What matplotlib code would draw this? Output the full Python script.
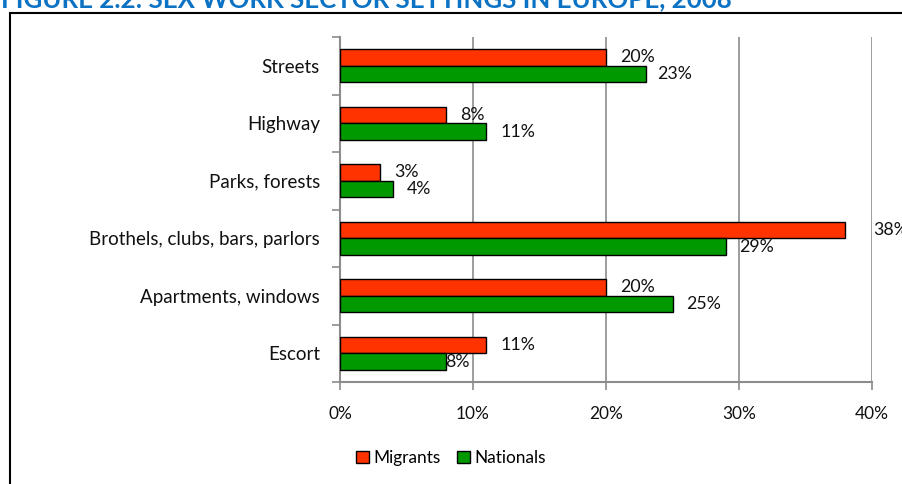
import matplotlib
matplotlib.use("Agg")
import matplotlib.pyplot as plt
from matplotlib.patches import Rectangle, Patch
import numpy as np

# Data
categories = ["Streets", "Highway", "Parks, forests",
              "Brothels, clubs, bars, parlors", "Apartments, windows", "Escort"]
migrants = [20, 8, 3, 38, 20, 11]
nationals = [23, 11, 4, 29, 25, 8]
series_names = ["Migrants", "Nationals"]
x_ticks = [0, 10, 20, 30, 40]
title_text = "FIGURE 2.2: SEX WORK SECTOR SETTINGS IN EUROPE, 2008"

# Label nudges in points (x) for the value labels
mig_dx = [10, 10, 10, 20, 10, 10]
nat_dx = [8, 10, 10, 10, 10, -1]

RED = "#FF3300"
GREEN = "#009900"
GRID = "#8C8C8C"
TEXT = "#111111"
FONT = "Lato"

W, H = 903, 484
fig = plt.figure(figsize=(W / 100, H / 100), dpi=100)
plt.rcParams["font.family"] = [FONT, "DejaVu Sans"]

# Plot area
left, right, top, bottom = 340, 872, 37, 382
ax = fig.add_axes([left / W, 1 - bottom / H, (right - left) / W, (bottom - top) / H])

n = len(categories)
y = np.arange(n)
bh = 0.29
ax.barh(y - bh / 2, migrants, height=bh, color=RED, edgecolor="black", linewidth=1.0, zorder=3)
ax.barh(y + bh / 2, nationals, height=bh, color=GREEN, edgecolor="black", linewidth=1.0, zorder=3)

ax.set_ylim(n - 0.5, -0.5)
ax.set_xlim(0, 40)
ax.set_xticks(x_ticks)
ax.set_xticklabels([f"{t}%" for t in x_ticks], fontsize=12.4, color=TEXT)
ax.set_yticks(y)
ax.set_yticklabels(categories, fontsize=13.5, color=TEXT)
ax.set_yticks(np.arange(n + 1) - 0.5, minor=True)
ax.tick_params(axis="y", which="major", length=0, pad=14.5)
ax.tick_params(axis="y", which="minor", length=6, color=GRID, width=1.2)
ax.tick_params(axis="x", which="major", length=6, color=GRID, width=1.2, pad=11)

ax.grid(axis="x", color=GRID, linewidth=1.2, zorder=0)
for s in ["top", "right"]:
    ax.spines[s].set_visible(False)
for s in ["left", "bottom"]:
    ax.spines[s].set_color(GRID)
    ax.spines[s].set_linewidth(1.5)

# Value labels
for i in range(n):
    ax.annotate(f"{migrants[i]}%", (migrants[i], y[i] - bh / 2), xytext=(mig_dx[i], 0),
                textcoords="offset points", va="center", ha="left", fontsize=12.8,
                color=TEXT, annotation_clip=False, zorder=4)
    ax.annotate(f"{nationals[i]}%", (nationals[i], y[i] + bh / 2), xytext=(nat_dx[i], 0),
                textcoords="offset points", va="center", ha="left", fontsize=12.8,
                color=TEXT, annotation_clip=False, zorder=4)

# Legend
handles = [Patch(facecolor=RED, edgecolor="black", linewidth=1.0),
           Patch(facecolor=GREEN, edgecolor="black", linewidth=1.0)]
fig.legend(handles, series_names, loc="center", bbox_to_anchor=(451 / W, 1 - 458 / H),
           ncol=2, frameon=False, fontsize=12.4, handlelength=0.75, handleheight=0.75,
           handletextpad=0.25, columnspacing=1.0)

# Outer frame of the chart box
fig.add_artist(Rectangle((10 / W, -0.1), 1.2, (1 - 13.3 / H) + 0.1, transform=fig.transFigure,
                         fill=False, edgecolor="black", linewidth=1.5))

# Heading, partially above the page edge
fig.text(1 / W, 1 - 7 / H, title_text, ha="left", va="baseline", fontsize=18.6,
         fontweight="bold", color="#0B72C4")

fig.savefig("out.png", dpi=100)
